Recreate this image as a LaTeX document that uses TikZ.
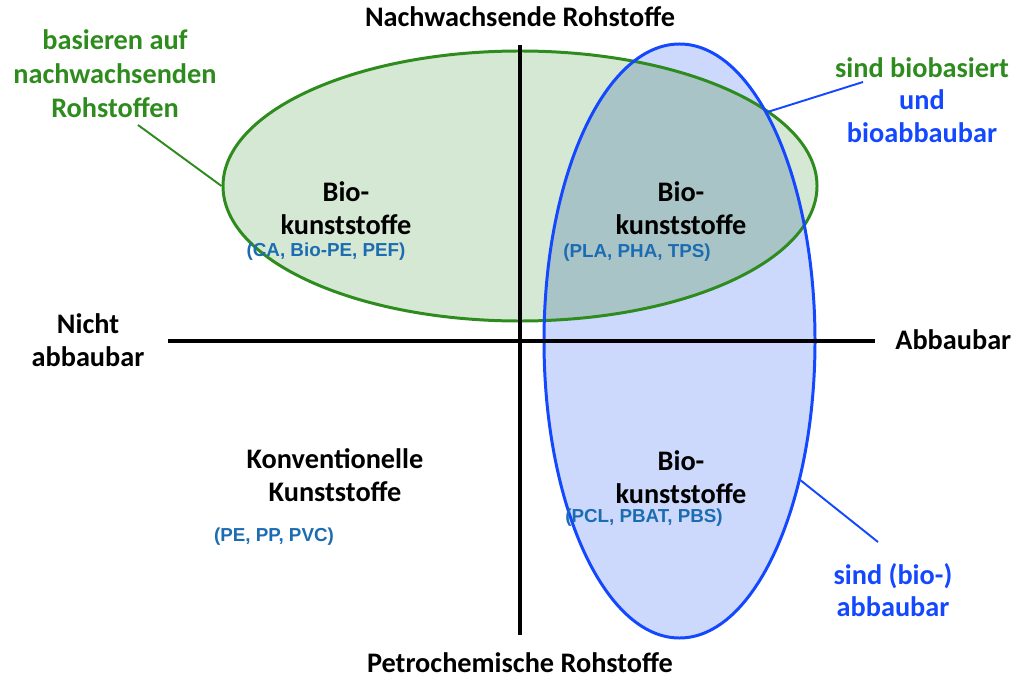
\documentclass[tikz,border=0pt]{standalone}
\usepackage{fontspec}
\setmainfont{Carlito}
\newfontfamily\arialfont{Liberation Sans}
\usetikzlibrary{positioning,shapes.geometric}

\definecolor{gruenrand}{RGB}{46,139,30}
\definecolor{gruenfill}{RGB}{213,232,212}
\definecolor{blaurand}{RGB}{20,72,255}
\definecolor{blaufill}{RGB}{204,217,252}
\definecolor{mischfill}{RGB}{169,196,199}
\definecolor{listblau}{RGB}{28,108,178}

\begin{document}
\begin{tikzpicture}[x=0.2mm,y=-0.2mm,
    achse/.style={line width=2.8pt},
    titel/.style={font=\bfseries\fontsize{16.1}{18.6}\selectfont,align=center,inner sep=0pt},
    notiz/.style={font=\bfseries\fontsize{16.1}{19.3}\selectfont,align=center,inner sep=0pt},
    liste/.style={font=\arialfont\bfseries\fontsize{10.7}{12}\selectfont,text=listblau,inner sep=0pt},
    ring/.style={ellipse,inner sep=0pt,line width=1.7pt},
    leiter/.style={line width=1.1pt}]
    \useasboundingbox (0,0) rectangle (1019,678);
    % 1 unit = 1 pixel of the 1019x678 frame
    \fill[gruenfill] (520,186) ellipse [x radius=59.4mm, y radius=27mm];
    \fill[blaufill] (679.5,341) ellipse [x radius=27.1mm, y radius=59.4mm];
    \begin{scope}
      \clip (520,186) ellipse [x radius=59.4mm, y radius=27mm];
      \fill[mischfill] (679.5,341) ellipse [x radius=27.1mm, y radius=59.4mm];
    \end{scope}
    \node[ring,draw=gruenrand,minimum width=118.8mm,minimum height=54mm] (gruen) at (520,186) {};
    \node[ring,draw=blaurand,minimum width=54.2mm,minimum height=118.8mm] (blau) at (679.5,341) {};
    % axes
    \coordinate (aoben) at (520,45);
    \coordinate (aunten) at (520,635);
    \coordinate (alinks) at (168,341);
    \coordinate (arechts) at (875,341);
    \draw[achse] (aoben) -- (aunten);
    \draw[achse] (alinks) -- (arechts);
    % axis labels
    \node[titel] (oben) at (520,17) {Nachwachsende Rohstoffe};
    \node[titel] (unten) at (520,663) {Petrochemische Rohstoffe};
    \node[titel] (links) at (88,340) {Nicht\\abbaubar};
    \node[titel,anchor=west] (rechts) at (895,340) {Abbaubar};
    % side notes
    \node[notiz,text=gruenrand] (gruentext) at (115,74) {basieren auf\\nachwachsenden\\Rohstoffen};
    \node[titel,text=gruenrand] (beidetext) at (922,100) {sind biobasiert\\\textcolor{blaurand}{und}\\\textcolor{blaurand}{bioabbaubar}};
    \node[titel,text=blaurand] (blautext) at (893,590) {sind (bio-)\\abbaubar};
    \coordinate (gruenende) at (138,125);
    \coordinate (beideende) at (863,82);
    \coordinate (blauende) at (878,542);
    \draw[leiter,gruenrand] (gruenende) -- (gruen.180);
    \draw[leiter,blaurand] (beideende) -- (blau.69.4);
    \draw[leiter,blaurand] (blauende) -- (blau.-49);
    % quadrants
    \node[titel] (bio1) at (346,208) {Bio-\\kunststoffe};
    \node[liste] (liste1) at (326,252) {(CA, Bio-PE, PEF)};
    \node[titel] (bio2) at (681,208) {Bio-\\kunststoffe};
    \node[liste] (liste2) at (637,253) {(PLA, PHA, TPS)};
    \node[titel] (bio3) at (681,477) {Bio-\\kunststoffe};
    \node[liste] (liste3) at (644,518) {(PCL, PBAT, PBS)};
    \node[titel] (konv) at (335,475) {Konventionelle\\Kunststoffe};
    \node[liste] (liste4) at (274,537) {(PE, PP, PVC)};
\end{tikzpicture}
\end{document}
